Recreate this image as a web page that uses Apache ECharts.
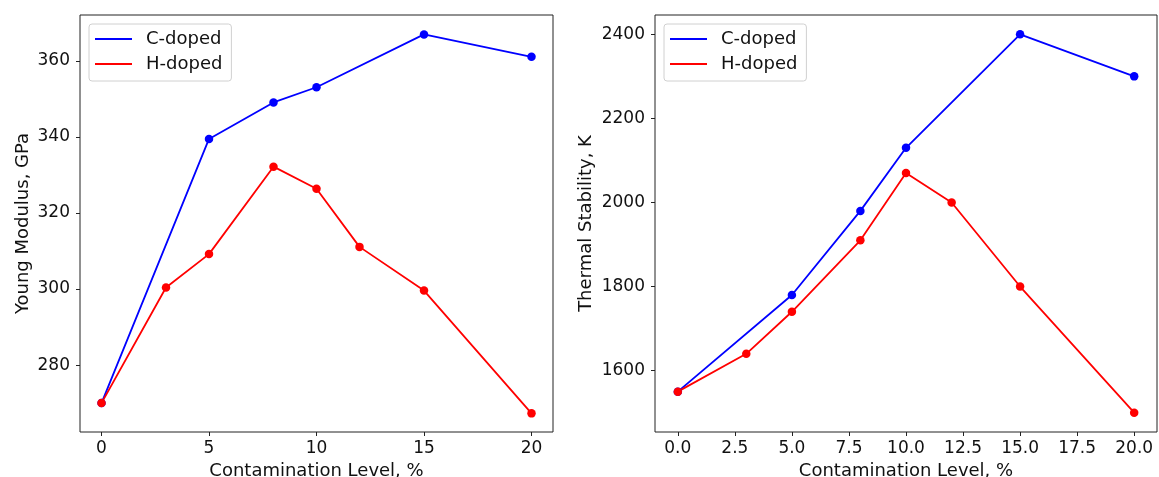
<!DOCTYPE html>
<html>
<head>
<meta charset="utf-8">
<script src="https://cdn.jsdelivr.net/npm/echarts@6/dist/echarts.min.js"></script>
<style>
	html, body { margin: 0; padding: 0; background: #fff; }
	#chart { width: 1159px; height: 477px; }
</style>
</head>
<body>
<div id="chart"></div>
<script>
	// contamination levels (%) for each series
	var levelsC = [0, 5, 8, 10, 15, 20];
	var levelsH = [0, 3, 5, 8, 10, 12, 15, 20];
	// Young modulus, GPa
	var youngC = [270, 339.5, 349.1, 353.1, 367.0, 361.1];
	var youngH = [270, 300.4, 309.2, 332.2, 326.4, 311.1, 299.6, 267.3];
	// thermal stability, K
	var thermalC = [1550, 1780, 1980, 2130, 2400, 2300];
	var thermalH = [1550, 1640, 1740, 1910, 2070, 2000, 1800, 1500];
	// tick labels
	var xTicksLeft = [0, 5, 10, 15, 20];
	var xTicksRight = [0, 2.5, 5, 7.5, 10, 12.5, 15, 17.5, 20];
	var yTicksLeft = [280, 300, 320, 340, 360];
	var yTicksRight = [1600, 1800, 2000, 2200, 2400];

	function pairs(xs, ys) {
		return xs.map(function(x, i) { return [x, ys[i]]; });
	}

	var font = 'DejaVu Sans';
	var ink = '#111';
	var fs = 18;   // names, legend
	var tfs = 17;  // tick labels

	function xAxis(idx, ticks, fmt) {
		return {
			type: 'value', gridIndex: idx, min: -1, max: 21,
			name: 'Contamination Level, %', nameLocation: 'middle', nameGap: 30,
			nameTextStyle: { fontFamily: font, fontSize: fs, color: ink },
			axisLine: { show: false, onZero: false },
			axisTick: { show: true, length: 4, lineStyle: { color: '#222' }, customValues: ticks },
			axisLabel: { fontFamily: font, fontSize: tfs, color: ink, margin: 8, customValues: ticks, formatter: fmt },
			splitLine: { show: false }
		};
	}

	function yAxis(idx, name, lo, hi, ticks, gap) {
		return {
			type: 'value', gridIndex: idx, min: lo, max: hi,
			name: name, nameLocation: 'middle', nameGap: gap,
			nameTextStyle: { fontFamily: font, fontSize: fs, color: ink },
			axisLine: { show: false, onZero: false },
			axisTick: { show: true, length: 4, lineStyle: { color: '#222' }, customValues: ticks },
			axisLabel: { fontFamily: font, fontSize: tfs, color: ink, margin: 10, customValues: ticks,
				formatter: function(v) { return String(v); } },
			splitLine: { show: false }
		};
	}

	function line(name, color, idx, data) {
		return {
			name: name, type: 'line', xAxisIndex: idx, yAxisIndex: idx,
			data: data, symbol: 'circle', symbolSize: 8.5,
			lineStyle: { color: color, width: 1.8 },
			itemStyle: { color: color },
			emphasis: { disabled: true },
			animation: false
		};
	}

	function legend(left) {
		return {
			orient: 'vertical', left: left, top: 24,
			data: ['C-doped', 'H-doped'],
			icon: 'rect', itemWidth: 37, itemHeight: 2, itemGap: 5,
			padding: [5, 9, 7, 6],
			borderColor: '#d0d0d0', borderWidth: 1, borderRadius: 3,
			backgroundColor: '#fff',
			textStyle: { fontFamily: font, fontSize: fs, color: ink, lineHeight: 20, padding: [0, 0, 0, 9] }
		};
	}

	var chart = echarts.init(document.getElementById('chart'));
	chart.setOption({
		animation: false,
		grid: [
			{ left: 80, top: 15, width: 473, height: 417, show: true, borderColor: '#222', borderWidth: 1,
				outerBoundsMode: 'none', containLabel: false },
			{ left: 655, top: 15, width: 502, height: 417, show: true, borderColor: '#222', borderWidth: 1,
				outerBoundsMode: 'none', containLabel: false }
		],
		legend: [legend(89), legend(664)],
		xAxis: [
			xAxis(0, xTicksLeft, function(v) { return String(v); }),
			xAxis(1, xTicksRight, function(v) { return v.toFixed(1); })
		],
		yAxis: [
			yAxis(0, 'Young Modulus, GPa', 262.4, 372.1, yTicksLeft, 48),
			yAxis(1, 'Thermal Stability, K', 1454, 2446, yTicksRight, 60)
		],
		series: [
			line('C-doped', '#0000ff', 0, pairs(levelsC, youngC)),
			line('H-doped', '#ff0000', 0, pairs(levelsH, youngH)),
			line('C-doped', '#0000ff', 1, pairs(levelsC, thermalC)),
			line('H-doped', '#ff0000', 1, pairs(levelsH, thermalH))
		]
	});
</script>
</body>
</html>
